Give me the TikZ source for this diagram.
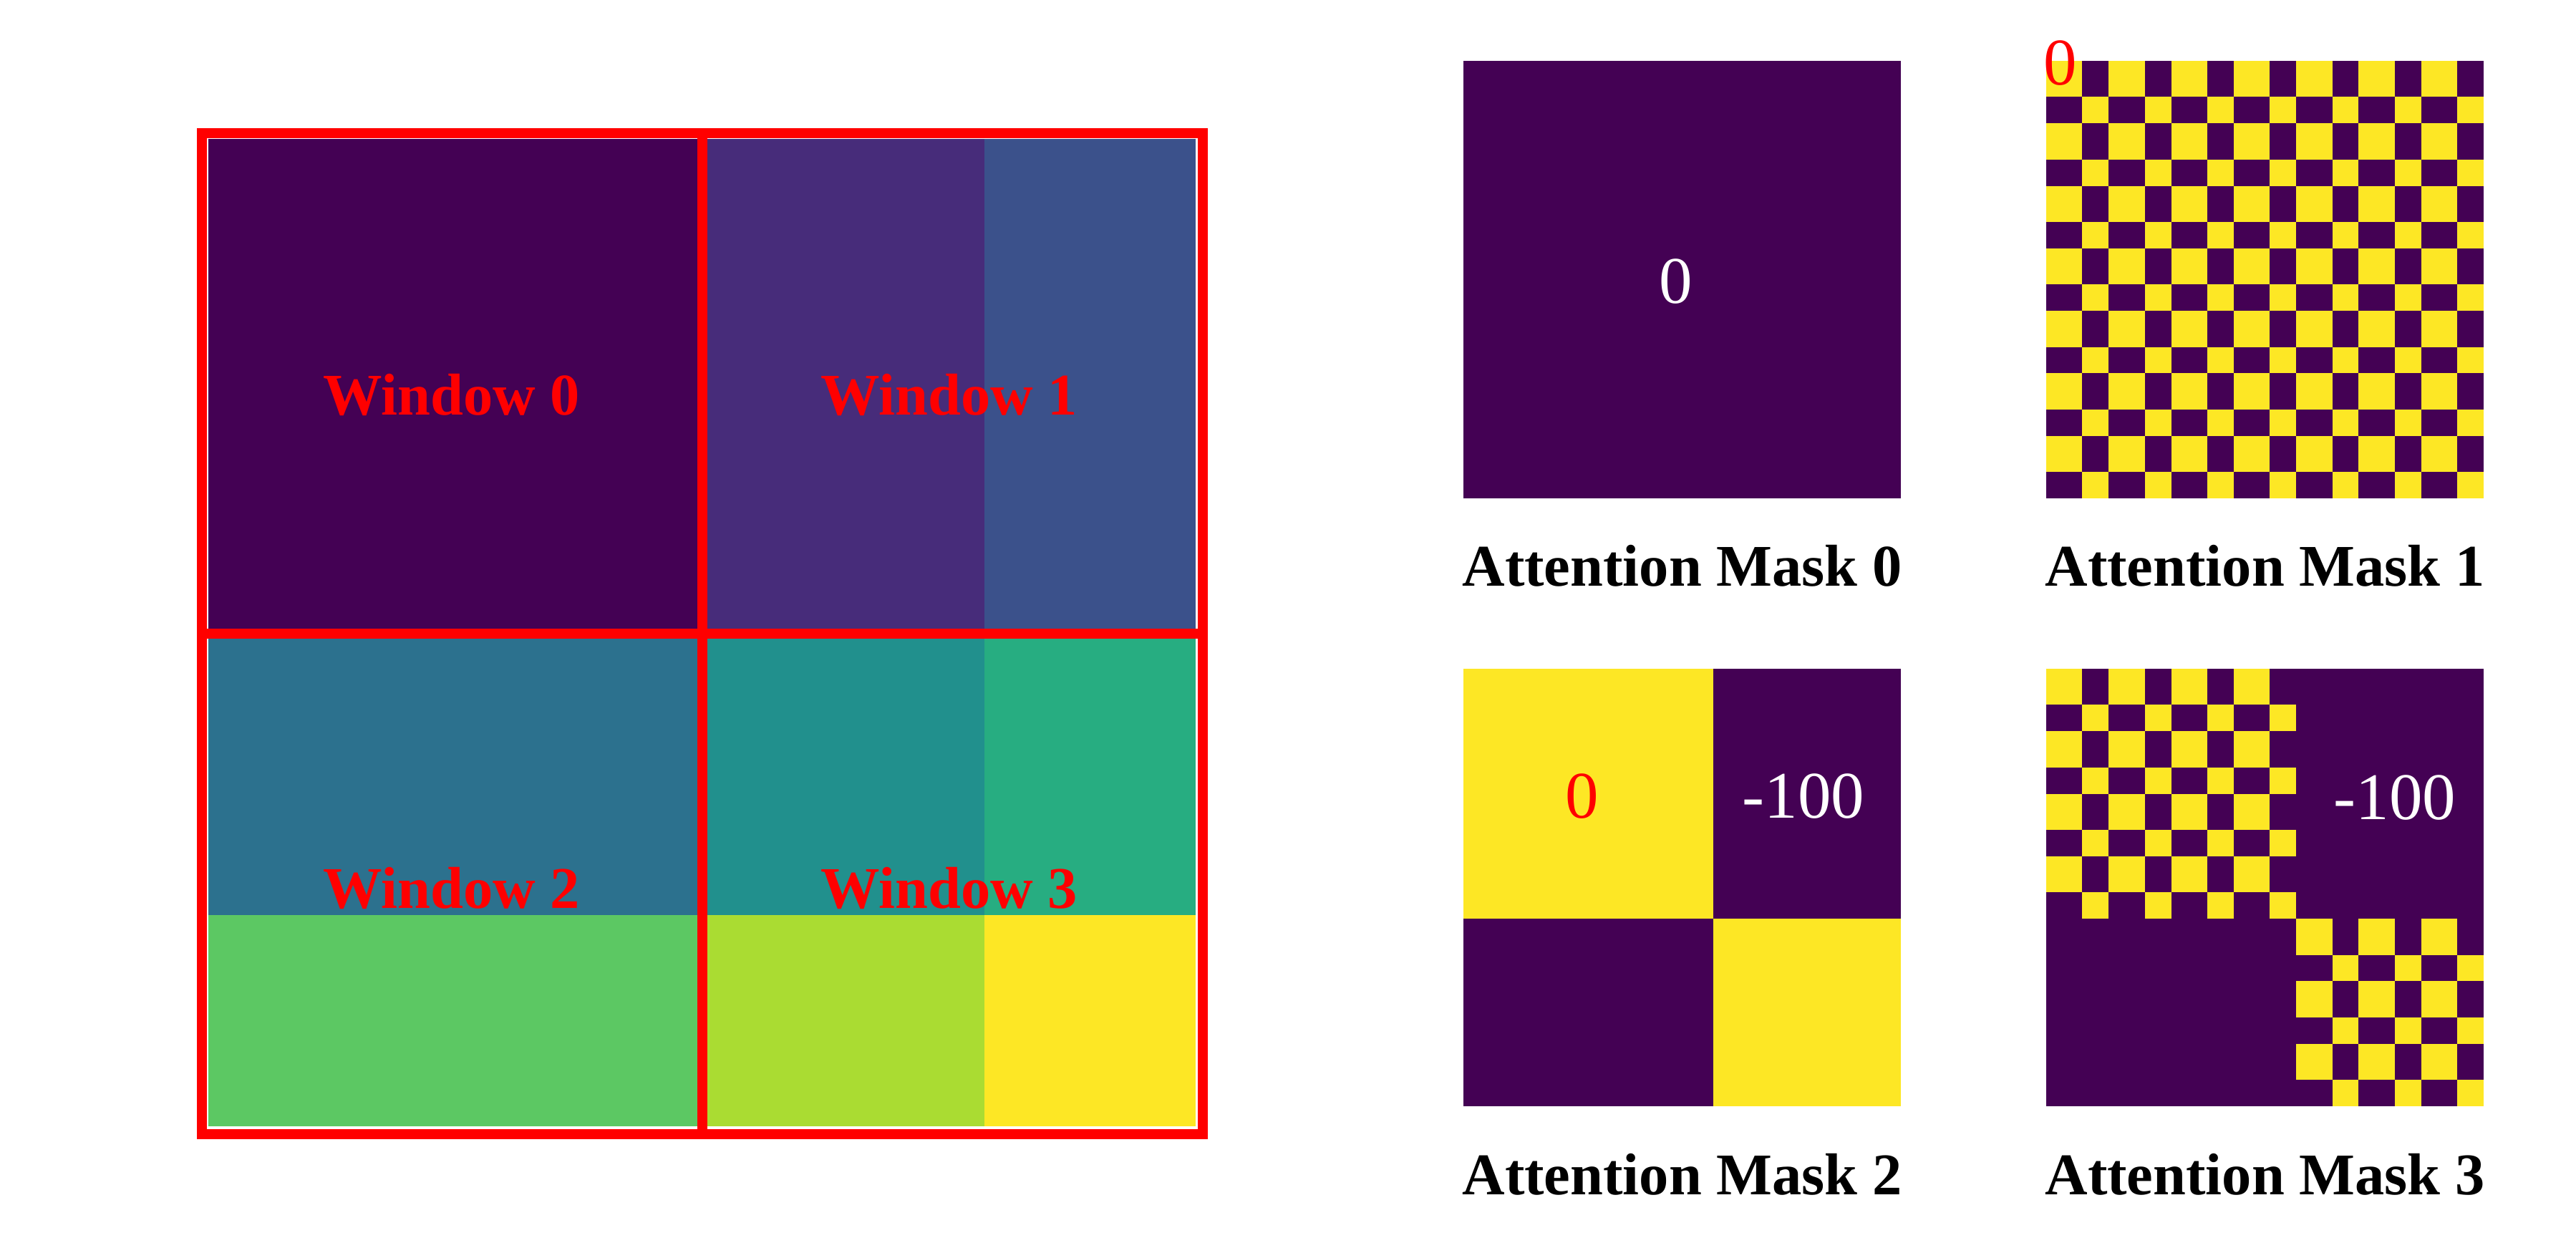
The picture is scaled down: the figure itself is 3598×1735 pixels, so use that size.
\documentclass[tikz,border=0pt]{standalone}
\usepackage{fontspec}
\setmainfont{Liberation Serif}
\definecolor{v0}{HTML}{440154}
\definecolor{v1}{HTML}{472C7A}
\definecolor{v2}{HTML}{3B518B}
\definecolor{v3}{HTML}{2C718E}
\definecolor{v4}{HTML}{21908D}
\definecolor{v5}{HTML}{27AD81}
\definecolor{v6}{HTML}{5CC863}
\definecolor{v7}{HTML}{AADC32}
\definecolor{v8}{HTML}{FDE725}
\definecolor{pred}{HTML}{FF0000}
\tikzset{
  winframe/.style={draw=pred, line width=2.8pt},
  winlabel/.style={text=pred, inner sep=0pt, font=\bfseries\fontsize{16.5pt}{19pt}\selectfont},
  masklabel/.style={text=black, inner sep=0pt, font=\bfseries\fontsize{16.5pt}{19pt}\selectfont},
  numw/.style={text=white, inner sep=0pt, font=\fontsize{18.6pt}{22pt}\selectfont},
  numr/.style={text=pred, inner sep=0pt, font=\fontsize{18.6pt}{22pt}\selectfont}
}
\def\cells{0/50.4,50.4/87.3,87.3/137.7,137.7/174.6,174.6/225.0,225.0/261.9,261.9/312.3,312.3/349.1,349.1/399.6,399.6/436.4,436.4/486.9,486.9/523.7,523.7/574.2,574.2/611}
\begin{document}
\begin{tikzpicture}[x=0.2pt,y=-0.2pt]
\useasboundingbox[fill=white] (0,0) rectangle (3598,1735);
% ---------- left panel: token grid ----------
\fill[v0] (291,194) rectangle (980.5,883.5);
\fill[v1] (980.5,194) rectangle (1374.5,883.5);
\fill[v2] (1374.5,194) rectangle (1670,883.5);
\fill[v3] (291,883.5) rectangle (980.5,1277.5);
\fill[v4] (980.5,883.5) rectangle (1374.5,1277.5);
\fill[v5] (1374.5,883.5) rectangle (1670,1277.5);
\fill[v6] (291,1277.5) rectangle (980.5,1573);
\fill[v7] (980.5,1277.5) rectangle (1374.5,1573);
\fill[v8] (1374.5,1277.5) rectangle (1670,1573);
% windows
\draw[winframe] (282,186) rectangle (981,885);
\draw[winframe] (981,186) rectangle (1680,885);
\draw[winframe] (282,885) rectangle (981,1584);
\draw[winframe] (981,885) rectangle (1680,1584);
\node[winlabel] (w0) at (631,551) {Window 0};
\node[winlabel] (w1) at (1326,551) {Window 1};
\node[winlabel] (w2) at (631,1240) {Window 2};
\node[winlabel] (w3) at (1326,1240) {Window 3};
% ---------- mask 0 ----------
\fill[v0] (2044,85) rectangle (2655,696);
\node[numw] (m0v) at (2341,393) {0};
\node[masklabel] (m0l) at (2349.5,790) {Attention Mask 0};
% ---------- mask 1 ----------
\fill[v0] (2858,85) rectangle (3469,696);
\foreach \xa/\xb [count=\i from 0] in \cells {
  \foreach \ya/\yb [count=\j from 0] in \cells {
    \pgfmathtruncatemacro\pty{mod(\i+\j,2)}
    \ifnum\pty=0
      \fill[v8] (2858+\xa,85+\ya) rectangle (2858+\xb,85+\yb);
    \fi
  }
}
\node[numr] (m1v) at (2878,88) {0};
\node[masklabel] (m1l) at (3163.5,790) {Attention Mask 1};
% ---------- mask 2 ----------
\fill[v0] (2044,934) rectangle (2655,1545);
\fill[v8] (2044,934) rectangle (2393.1,1283.1);
\fill[v8] (2393.1,1283.1) rectangle (2655,1545);
\node[numr] (m2a) at (2210,1112) {0};
\node[numw] (m2b) at (2519,1112) {-100};
\node[masklabel] (m2l) at (2349.5,1640) {Attention Mask 2};
% ---------- mask 3 ----------
\fill[v0] (2858,934) rectangle (3469,1545);
\foreach \xa/\xb [count=\i from 0] in \cells {
  \foreach \ya/\yb [count=\j from 0] in \cells {
    \pgfmathtruncatemacro\pty{mod(\i+\j,2)}
    \pgfmathtruncatemacro\blk{(\i<8)+(\j<8)}
    \ifnum\pty=0
      \ifnum\blk=1\relax\else
        \fill[v8] (2858+\xa,934+\ya) rectangle (2858+\xb,934+\yb);
      \fi
    \fi
  }
}
\node[numw] (m3v) at (3345,1114) {-100};
\node[masklabel] (m3l) at (3163.5,1640) {Attention Mask 3};
\end{tikzpicture}
\end{document}
